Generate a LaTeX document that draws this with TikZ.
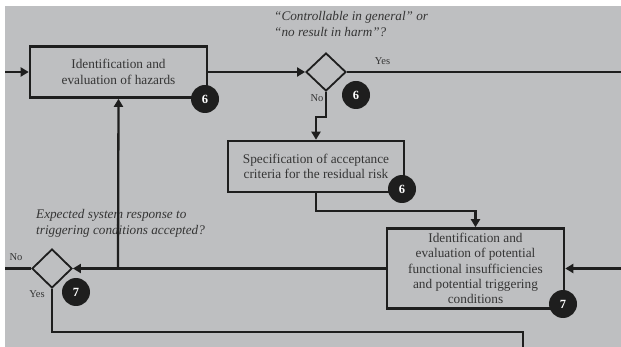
\documentclass[tikz,border=0pt]{standalone}
\usepackage{fontspec}
\setmainfont{Liberation Serif}
\usetikzlibrary{shapes.geometric,arrows.meta}

\definecolor{panel}{RGB}{190,191,193}
\definecolor{ink}{RGB}{30,30,30}

\begin{document}
\begin{tikzpicture}[x=1pt,y=-1pt,
    process/.style={draw=ink,line width=2.6pt,align=center,inner sep=1pt,
      font=\fontsize{13.3}{15.3}\selectfont,text=ink!90},
    decision/.style={draw=ink,diamond,line width=1.8pt,inner sep=0pt,
      minimum width=40pt,minimum height=38pt},
    badge/.style={circle,fill=ink,text=white,inner sep=0pt,minimum size=28pt,
      font=\fontsize{12.5}{14}\selectfont\bfseries},
    flow/.style={draw=ink,line width=2.3pt,-{Triangle[length=8pt,width=9pt]}},
    link/.style={draw=ink,line width=2.3pt},
    question/.style={anchor=north west,align=left,inner sep=0pt,text=ink!90,
      font=\fontsize{13.2}{16.2}\selectfont\itshape},
    branch/.style={inner sep=0pt,text=ink!90,font=\fontsize{10.5}{12}\selectfont}]
  % Fondo gris
  \useasboundingbox (0,0) rectangle (621,347);
  \fill[panel] (5,6) rectangle (621,347);

  % Cajas de proceso
  \node[process,minimum width=177pt,minimum height=51pt] (hazards) at (118.5,72)
    {Identification and\\evaluation of hazards};
  \node[process,minimum width=176pt,minimum height=51pt] (criteria) at (316,166.5)
    {Specification of acceptance\\criteria for the residual risk};
  \node[process,minimum width=177pt,minimum height=80pt] (insuff) at (475.5,268.5)
    {Identification and\\evaluation of potential\\functional insufficiencies\\and potential triggering\\conditions};

  % Decisiones
  \node[decision] (harm) at (326,72) {};
  \node[decision,minimum height=39pt] (accept) at (52,268.5) {};

  % Preguntas
  \node[question] (qharm) at (274,11)
    {``Controllable in general'' or\\``no result in harm''?};
  \node[question] (qaccept) at (36,209)
    {Expected system response to\\triggering conditions accepted?};

  % Puntos libres
  \coordinate (inA) at (5,72);
  \coordinate (outA) at (621,72);
  \coordinate (inB) at (621,268.5);
  \coordinate (outB) at (5,268.5);
  \coordinate (join) at (118,268.5);
  \coordinate (down) at (523,347);

  % Conexiones
  \draw[flow] (inA) -- (hazards.west);
  \draw[flow] (hazards.east) -- (harm.west);
  \draw[link] (harm.east) -- (outA) node[branch,pos=0.13,above=6pt] (yesA) {Yes};
  \draw[flow] (harm.south) -- (326,117) -- (316,117) -- (criteria.north);
  \draw[flow] (criteria.south) -- (316,211) -- (475.5,211) -- (insuff.north);
  \draw[flow] (inB) -- (insuff.east);
  \draw[flow] (insuff.west) -- (accept.east);
  \draw[flow] (join) -- (hazards.south);
  \draw[link] (accept.west) -- (outB);
  \draw[link] (accept.south) -- (52,332) -- (523,332) -- (down);

  % Etiquetas Yes / No
  \node[branch] (noA) at (317,98) {No};
  \node[branch] (noB) at (16,257) {No};
  \node[branch] (yesB) at (37,294) {Yes};

  % Insignias
  \node[badge] (b1) at (205,99) {6};
  \node[badge] (b2) at (356,95) {6};
  \node[badge] (b3) at (402,189) {6};
  \node[badge] (b4) at (563,304) {7};
  \node[badge] (b5) at (76,292) {7};
\end{tikzpicture}
\end{document}
